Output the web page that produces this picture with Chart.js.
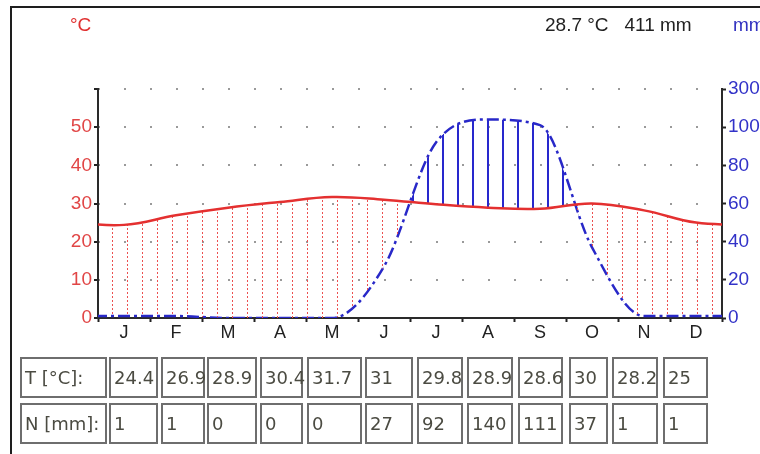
<!DOCTYPE html>
<html><head><meta charset="utf-8">
<script src="https://cdn.jsdelivr.net/npm/chart.js@4/dist/chart.umd.min.js"></script>
<style>
html,body{margin:0;padding:0;background:#fff;width:760px;height:454px;overflow:hidden;}
#frame{position:absolute;left:10px;top:6px;width:800px;height:500px;border-left:2px solid #1e1e1e;border-top:2px solid #1e1e1e;}
#c{position:absolute;left:0;top:0;}
.t{position:absolute;font-family:"Liberation Sans",Arial,sans-serif;font-size:19px;white-space:nowrap;line-height:1;}
.cell{position:absolute;box-sizing:border-box;border:2px solid #6e6e6e;height:41px;font-family:"DejaVu Sans",Verdana,sans-serif;font-size:18px;color:#4b4b42;padding-left:3px;line-height:37px;white-space:nowrap;overflow:visible;}
</style></head><body>
<div id="frame"></div>
<canvas id="c" width="760" height="454"></canvas>
<div class="t" style="left:70px;top:15px;color:#e03030;">°C</div>
<div class="t" id="summary" style="left:545px;top:15px;color:#222;"></div>
<div class="t" style="left:733px;top:15px;color:#3232c0;">mm</div>
<div id="table"></div>
<script>
const months = ['J','F','M','A','M','J','J','A','S','O','N','D'];
const temperature = [24.4, 26.9, 28.9, 30.4, 31.7, 31, 29.8, 28.9, 28.6, 30, 28.2, 25];
const precipitation = [1, 1, 0, 0, 0, 27, 92, 140, 111, 37, 1, 1];
const leftTickLabels = ['0','10','20','30','40','50',''];
const rightTickLabels = ['0','20','40','60','80','100','300'];
const rowLabels = ['T [°C]:', 'N [mm]:'];

// layout (not data)
const colLefts  = [20,109,161,207,260,307,365,417,467,518,569,612,663];
const colRights = [107,158,205,257,303,362,413,463,513,563,608,658,708];
const rowTops = [357, 403];

// Walter-Lieth precipitation scale: 20 mm per 10 °C up to 100 mm, then compressed 10x
function precipToScale(mm){ return mm <= 100 ? mm / 2 : 50 + (mm - 100) / 20; }
function cyclic(values, f){
  const n = values.length;
  const pts = [{x: -0.5, y: f(values[n-1])}];
  values.forEach((v, i) => pts.push({x: i + 0.5, y: f(v)}));
  pts.push({x: n + 0.5, y: f(values[0])});
  return pts;
}

// summary
const meanT = temperature.reduce((a,b)=>a+b,0) / temperature.length;
const sumP = precipitation.reduce((a,b)=>a+b,0);
document.getElementById('summary').innerHTML = meanT.toFixed(1) + ' °C&nbsp;&nbsp;&nbsp;' + sumP + ' mm';

// table
const tbl = document.getElementById('table');
[temperature, precipitation].forEach((vals, r) => {
  const cells = [rowLabels[r]].concat(vals.map(String));
  cells.forEach((txt, i) => {
    const d = document.createElement('div');
    d.className = 'cell';
    d.style.left = colLefts[i] + 'px';
    d.style.top = rowTops[r] + 'px';
    d.style.width = (colRights[i] - colLefts[i]) + 'px';
    d.textContent = txt;
    tbl.appendChild(d);
  });
});

const canvas = document.getElementById('c');
const ctx = canvas.getContext('2d');
function makePattern(w, h, draw){
  const pc = document.createElement('canvas');
  pc.width = w; pc.height = h;
  const g = pc.getContext('2d');
  draw(g);
  return ctx.createPattern(pc, 'repeat');
}
const aridPattern = makePattern(15, 4, g => { g.fillStyle = 'rgb(236,80,80)'; g.fillRect(7, 0, 1, 2); });
const humidPattern = makePattern(15, 4, g => { g.fillStyle = 'rgb(40,40,205)'; g.fillRect(7, 0, 2, 4); });

new Chart(ctx, {
  type: 'line',
  data: {
    datasets: [
      {
        label: 'T', data: cyclic(temperature, v => v),
        borderColor: 'rgb(228,48,48)', borderWidth: 2.5, pointRadius: 0, tension: 0.4,
        fill: {target: 1, above: aridPattern, below: humidPattern},
        order: 0
      },
      {
        label: 'N', data: cyclic(precipitation, precipToScale),
        borderColor: 'rgb(40,40,200)', borderWidth: 2.5, borderDash: [12,4,3,4],
        pointRadius: 0, cubicInterpolationMode: 'monotone', fill: false,
        order: 1
      }
    ]
  },
  options: {
    responsive: false, animation: false,
    layout: {padding: {top: 89, bottom: 106, left: 0, right: 0}},
    plugins: {legend: {display: false}, tooltip: {enabled: false}},
    scales: {
      x: {
        type: 'linear', min: 0, max: 12,
        ticks: {
          stepSize: 0.5, autoSkip: false, maxRotation: 0, padding: 0,
          color: '#222', font: {family: 'Liberation Sans', size: 18},
          callback: v => { const k = Math.round(v*2); return k % 2 === 1 ? months[(k-1)/2] : ''; }
        },
        grid: {
          drawOnChartArea: false, drawTicks: true, tickLength: 4, tickWidth: 2,
          tickColor: c => (c.tick && Math.round(c.tick.value*2) % 2 === 0) ? '#222' : 'rgba(0,0,0,0)'
        },
        border: {color: '#2a2a2a', width: 2},
        afterFit: s => { s.height = 30; }
      },
      y: {
        position: 'left', min: 0, max: 60,
        ticks: {stepSize: 10, padding: 2, color: 'rgb(225,70,70)', font: {family: 'Liberation Sans', size: 19},
          callback: v => leftTickLabels[Math.round(v/10)]},
        grid: {color: '#9a9a9a', lineWidth: 2, drawTicks: true, tickLength: 4, tickColor: '#222', tickWidth: 2},
        border: {color: '#2a2a2a', width: 2, dash: [2,24], dashOffset: 1},
        afterFit: s => { s.width = 98; }
      },
      y2: {
        position: 'right', min: 0, max: 60,
        ticks: {stepSize: 10, padding: 2, color: 'rgb(50,50,200)', font: {family: 'Liberation Sans', size: 19},
          callback: v => rightTickLabels[Math.round(v/10)]},
        grid: {drawOnChartArea: false, drawTicks: true, tickLength: 4, tickColor: '#222', tickWidth: 2},
        border: {color: '#2a2a2a', width: 2},
        afterFit: s => { s.width = 38; }
      }
    }
  }
});
</script>
</body></html>
